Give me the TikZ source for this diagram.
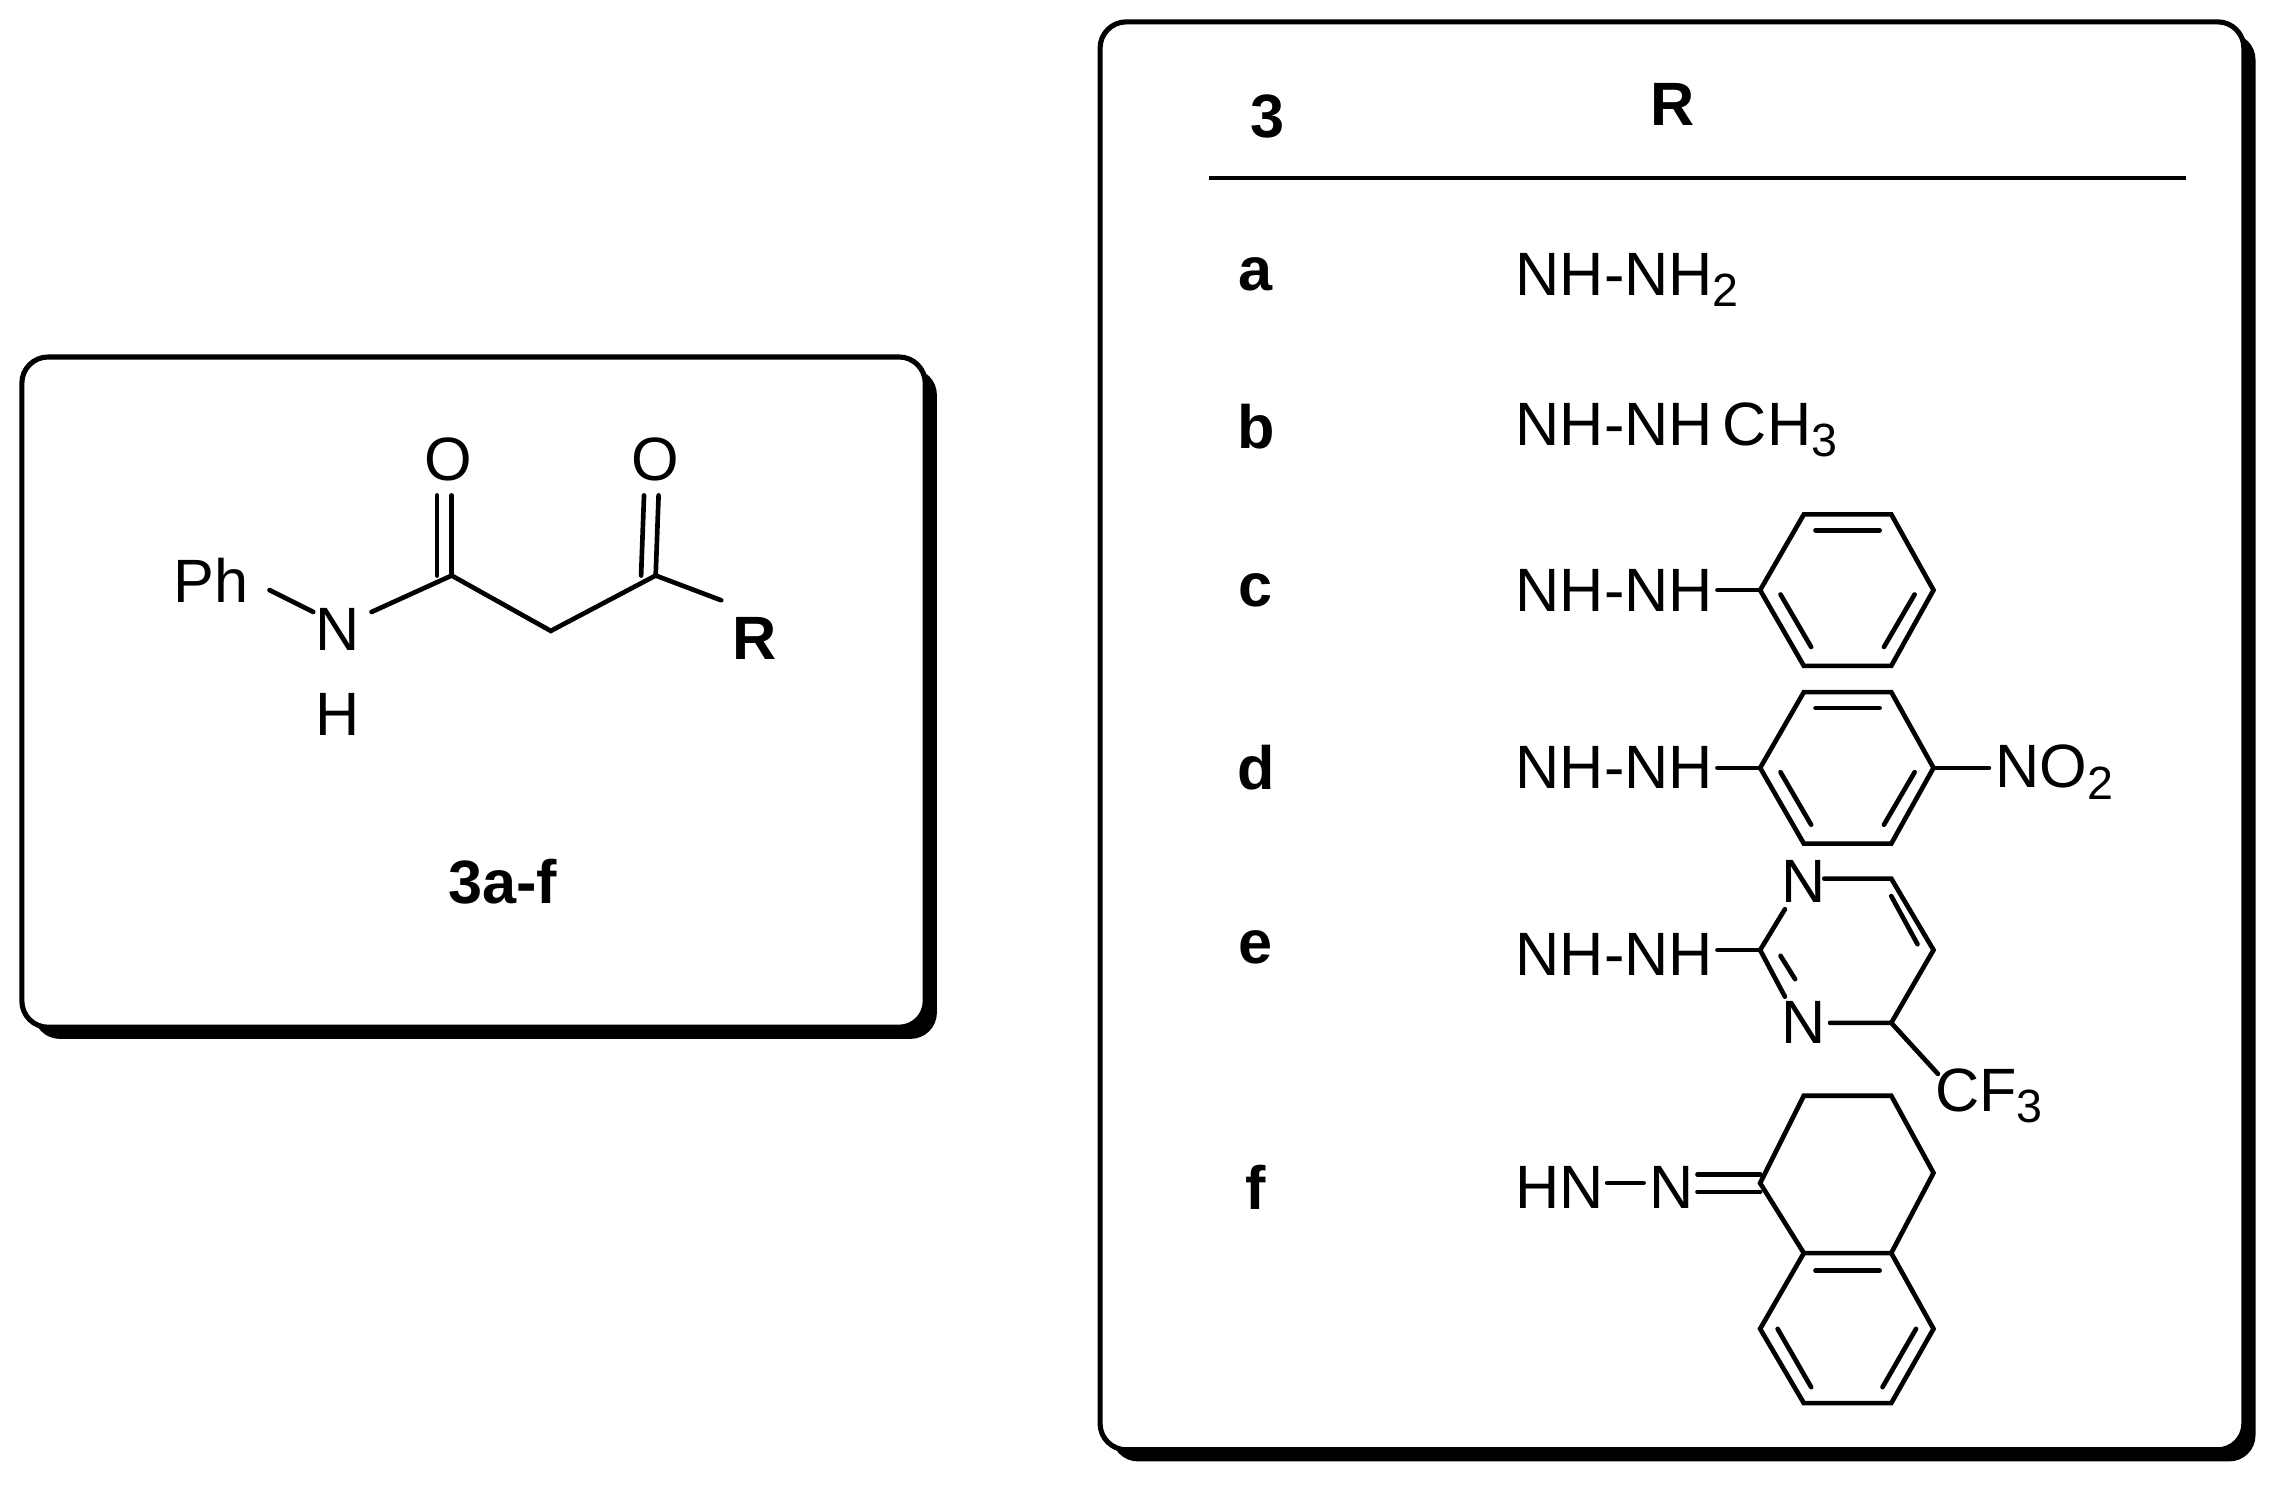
\documentclass[tikz,border=0pt]{standalone}
\usepackage{fontspec}
\setmainfont{Liberation Sans}
\newcommand{\sbs}[1]{\raisebox{-0.35ex}{\fontsize{32}{32}\selectfont #1}}
\begin{document}
\begin{tikzpicture}[x=1pt,y=-1pt,
  t/.style={font=\fontsize{42}{50}\selectfont,inner sep=0pt},
  tb/.style={font=\fontsize{42}{50}\selectfont\bfseries,inner sep=0pt},
  bond/.style={line width=3.2pt,line cap=round},
  box/.style={line width=3.5pt,rounded corners=18pt,fill=white}]
\useasboundingbox (0,0) rectangle (1560,1020);
% boxes
\fill[rounded corners=18pt] (23,253) rectangle (643,713);
\draw[box] (15,245) rectangle (635,705);
\fill[rounded corners=18pt] (763,23) rectangle (1548,1003);
\draw[box] (755,15) rectangle (1540,995);
% left structure
\node[t] (ph) at (145,398) {Ph};
\node[t] (n) at (232,432) {N};
\node[t] (h) at (232,490) {H};
\node[t] (o1) at (308,315) {O};
\node[t] (o2) at (450,315) {O};
\node[tb] (r) at (518,438) {R};
\node[tb] (lab) at (345,605) {3a-f};
\coordinate (c1) at (310,395);
\coordinate (ch) at (378,433);
\coordinate (c2) at (450,395);
\draw[bond] (185,405) -- (215,420);
\draw[bond] (255,420) -- (c1) -- (ch) -- (c2) -- (495,412);
\draw[bond] (c1) -- (310,340); \draw[bond] (c1)++(-10,0) -- (300,340);
\draw[bond] (c2) -- (452,340); \draw[bond] (c2)++(-10,0) -- (442,340);
% right table
\node[tb] (h3) at (870,80) {3};
\node[tb] (hr) at (1148,72) {R};
\draw[line width=3pt] (830,122) -- (1500,122);
\foreach \l/\y in {a/188,b/293,c/405,d/527,e/650,f/815}
  \node[tb] (l\l) at (862,\y) {\l};
\node[t,anchor=west] (ra) at (1040,192) {NH-NH\sbs{2}};
\node[t,anchor=west] (rb) at (1040,295) {NH-NH\,CH\sbs{3}};
\node[t,anchor=west] (rc) at (1040,405) {NH-NH};
\node[t,anchor=west] (rd) at (1040,527) {NH-NH};
\node[t,anchor=west] (re) at (1040,655) {NH-NH};
\node[t,anchor=west] (rf) at (1040,815) {HN};
\node[t] (nf) at (1147,815) {N};
\node[t] (no2) at (1410,530) {NO\sbs{2}};
\node[t] (ne1) at (1238,605) {N};
\node[t] (ne2) at (1238,702) {N};
\node[t] (cf3) at (1365,752) {CF\sbs{3}};
\draw[bond] (rc.east) ++(3,0) -- (1208,405);
\draw[bond] (rd.east) ++(3,0) -- (1208,527);
\draw[bond] (re.east) ++(3,-3) -- (1208,652);
% benzene rings c, d
\foreach \cy in {405,527}{
  \draw[bond] (1208,\cy) -- (1238,\cy-52) -- (1298,\cy-52) -- (1327,\cy) -- (1298,\cy+52) -- (1238,\cy+52) -- cycle;
  \draw[bond] (1246,\cy-41) -- (1290,\cy-41);
  \draw[bond] (1314,\cy+3) -- (1293,\cy+39);
  \draw[bond] (1222,\cy+3) -- (1243,\cy+39);
}
\draw[bond] (1327,527) -- (1365,527);
% pyrimidine
\draw[bond] (1208,652) -- (1225,624); \draw[bond] (1252,603) -- (1298,603) -- (1327,652) -- (1298,702) -- (1256,702);
\draw[bond] (1225,684) -- (1208,652);
\draw[bond] (1298,615) -- (1316,648);
\draw[bond] (1222,656) -- (1232,672);
\draw[bond] (1298,702) -- (1330,737);
% f
\draw[bond] (1103,812) -- (1128,812);
\draw[bond] (1165,806) -- (1208,806); \draw[bond] (1165,818) -- (1208,818);
\draw[bond] (1208,812) -- (1238,752) -- (1298,752) -- (1327,805) -- (1298,860) -- (1238,860) -- cycle;
\draw[bond] (1298,860) -- (1327,912) -- (1298,963) -- (1238,963) -- (1208,912) -- (1238,860);
\draw[bond] (1246,872) -- (1290,872);
\draw[bond] (1220,912) -- (1243,952);
\draw[bond] (1315,912) -- (1292,952);
\end{tikzpicture}
\end{document}
